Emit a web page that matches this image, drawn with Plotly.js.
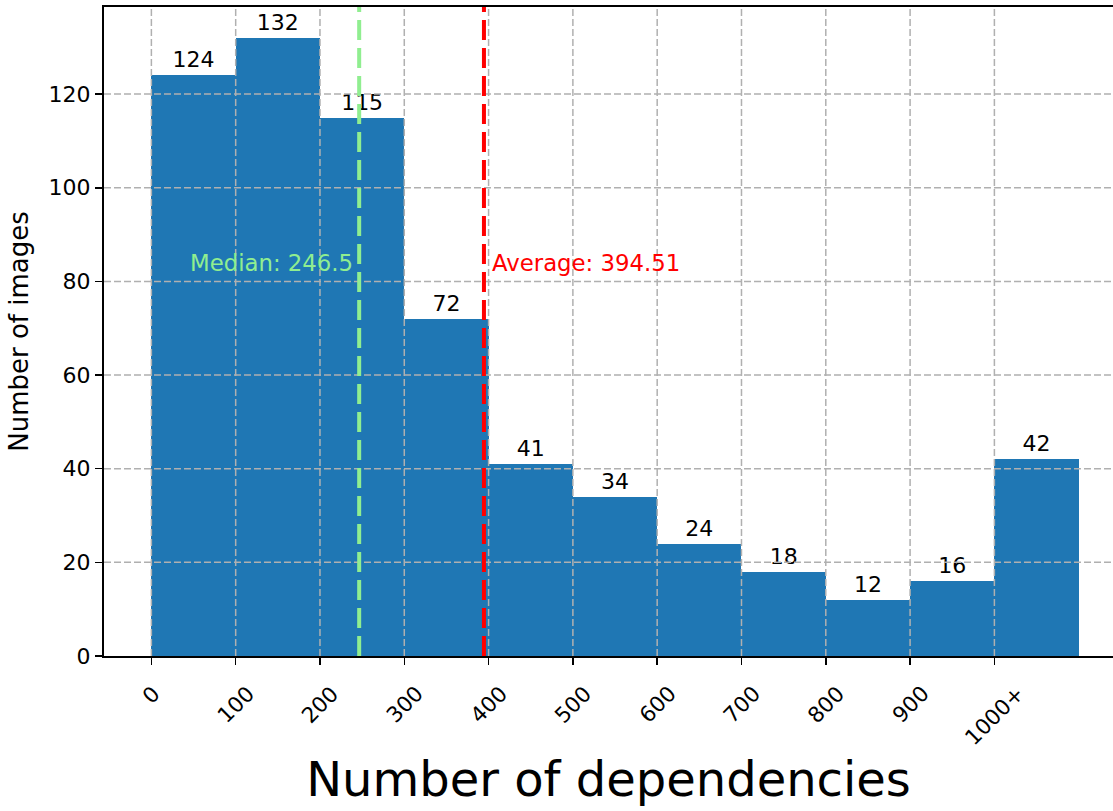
<!DOCTYPE html>
<html><head><meta charset="utf-8">
<script src="https://cdn.plot.ly/plotly-3.0.1.min.js"></script>
<style>html,body{margin:0;padding:0;overflow:hidden;background:#fff}</style>
</head><body><div id="chart" style="width:1113px;height:811px"></div>
<script>
const binStarts = [0, 100, 200, 300, 400, 500, 600, 700, 800, 900, 1000];
const binWidth = 100;
const counts = [124, 132, 115, 72, 41, 34, 24, 18, 12, 16, 42];
const xTickVals = [0, 100, 200, 300, 400, 500, 600, 700, 800, 900, 1000];
const xTickLabels = ['0', '100', '200', '300', '400', '500', '600', '700', '800', '900', '1000+'];
const yTickVals = [0, 20, 40, 60, 80, 100, 120];
const medianValue = 246.5;
const averageValue = 394.51;
const medianLabel = 'Median: 246.5';
const averageLabel = 'Average: 394.51';
const xTitle = 'Number of dependencies';
const yTitle = 'Number of images';

const FONT = 'DejaVu Sans, sans-serif';
const gridColor = 'rgb(176,176,176)';

const bar = {
  type: 'bar',
  x: binStarts.map(s => s + binWidth / 2),
  y: counts,
  width: binWidth,
  marker: {color: '#1f77b4', line: {width: 0}},
  text: counts.map(String),
  textposition: 'outside',
  textfont: {family: FONT, size: 22, color: '#000'},
  cliponaxis: false,
  constraintext: 'none',
  hoverinfo: 'x+y'
};

const shapes = [];
xTickVals.forEach(v => shapes.push({type: 'line', xref: 'x', yref: 'paper', x0: v, x1: v, y0: 0, y1: 1,
  line: {color: gridColor, width: 1.5, dash: '7px,3px'}, layer: 'above'}));
yTickVals.filter(v => v > 0).forEach(v => shapes.push({type: 'line', xref: 'paper', yref: 'y', x0: 0, x1: 1, y0: v, y1: v,
  line: {color: gridColor, width: 1.5, dash: '7px,3px'}, layer: 'above'}));
shapes.push({type: 'line', xref: 'x', yref: 'paper', x0: medianValue, x1: medianValue, y0: 0, y1: 1,
  line: {color: 'lightgreen', width: 4, dash: '20px,8px'}, layer: 'above'});
shapes.push({type: 'line', xref: 'x', yref: 'paper', x0: averageValue, x1: averageValue, y0: 0, y1: 1,
  line: {color: 'red', width: 4, dash: '20px,8px'}, layer: 'above'});

const annotations = xTickVals.map((v, i) => ({
  x: v, y: 0, xref: 'x', yref: 'y', text: xTickLabels[i], showarrow: false,
  textangle: -45, xanchor: 'center', yanchor: 'top', yshift: -22,
  font: {family: FONT, size: 21.5, color: '#000'}
}));
annotations.push({x: medianValue, y: 84, xref: 'x', yref: 'y', text: medianLabel, showarrow: false,
  xanchor: 'right', yanchor: 'middle', xshift: -4, font: {family: FONT, size: 22.8, color: 'lightgreen'}});
annotations.push({x: averageValue, y: 84, xref: 'x', yref: 'y', text: averageLabel, showarrow: false,
  xanchor: 'left', yanchor: 'middle', xshift: 6, font: {family: FONT, size: 22.8, color: 'red'}});

const layout = {
  width: 1113, height: 811,
  margin: {l: 104, r: 0, t: 7, b: 155, pad: 0},
  paper_bgcolor: '#fff', plot_bgcolor: '#fff',
  showlegend: false,
  font: {family: FONT, color: '#000'},
  bargap: 0,
  xaxis: {
    range: [-56.2, 1140.7], showgrid: false, zeroline: false,
    showline: true, linecolor: '#000', linewidth: 2, mirror: true,
    tickmode: 'array', tickvals: xTickVals, ticks: 'outside', ticklen: 7, tickwidth: 1.5, tickcolor: '#000',
    showticklabels: false,
    title: {text: xTitle, font: {family: FONT, size: 48, color: '#000'}, standoff: 98},
    automargin: false
  },
  yaxis: {
    range: [0, 138.6], showgrid: false, zeroline: false,
    showline: true, linecolor: '#000', linewidth: 2, mirror: false,
    tickmode: 'array', tickvals: yTickVals, ticks: 'outside', ticklen: 7, tickwidth: 1.5, tickcolor: '#000',
    tickfont: {family: FONT, size: 22, color: '#000'},
    title: {text: yTitle, font: {family: FONT, size: 26, color: '#000'}, standoff: 12},
    automargin: false
  },
  shapes: shapes,
  annotations: annotations
};

Plotly.newPlot('chart', [bar], layout, {displayModeBar: false, staticPlot: true});
</script></body></html>
